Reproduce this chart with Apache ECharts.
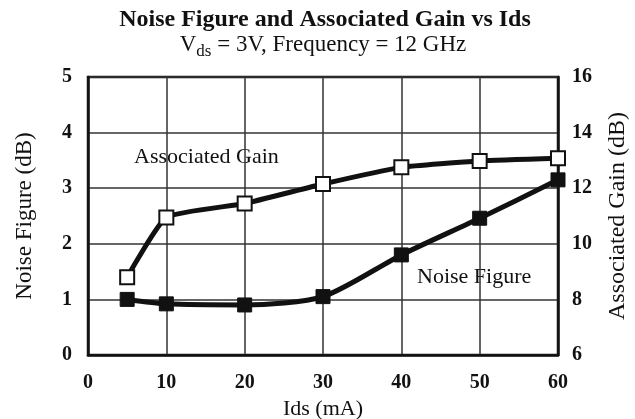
<!DOCTYPE html>
<html><head><meta charset="utf-8">
<script src="https://cdn.jsdelivr.net/npm/echarts@6/dist/echarts.min.js"></script>
<style>html,body{margin:0;padding:0;background:#fff}#c{width:635px;height:419px}</style>
</head><body><div id="c"></div>
<script>
var idsValues = [5, 10, 20, 30, 40, 50, 60];
var noiseFigure = [1.0, 0.92, 0.9, 1.05, 1.8, 2.46, 3.15];
var associatedGain = [8.8, 10.95, 11.45, 12.15, 12.75, 12.98, 13.08];
var FONT = '"Liberation Serif", "DejaVu Serif", serif';

var chart = echarts.init(document.getElementById('c'));
chart.setOption({
  backgroundColor: '#fff',
  animation: false,
  title: [{
    text: 'Noise Figure and Associated Gain vs Ids',
    left: 320, top: 3, textAlign: 'center',
    textStyle: {fontFamily: FONT, fontWeight: 'bold', fontSize: 24, color: '#111'}
  }, {
    text: '{n|V}{s|ds}{n| = 3V, Frequency = 12 GHz}',
    left: 318, top: 28, textAlign: 'center',
    textStyle: {fontWeight: 'normal', rich: {
      n: {fontFamily: FONT, fontWeight: 'normal', fontSize: 23, color: '#111', lineHeight: 26, verticalAlign: 'top'},
      s: {fontFamily: FONT, fontWeight: 'normal', fontSize: 17, color: '#111', lineHeight: 26, padding: [10, 0, 0, 0], verticalAlign: 'top'}
    }}
  }],
  grid: {left: 88, right: 77, top: 77, bottom: 64, outerBoundsMode: 'none', containLabel: false,
    show: true, borderColor: '#111', borderWidth: 2.5, backgroundColor: 'transparent'},
  xAxis: {
    type: 'value', min: 0, max: 60, interval: 10,
    name: 'Ids (mA)', nameLocation: 'middle', nameGap: 40,
    nameTextStyle: {fontFamily: FONT, fontSize: 22, color: '#111'},
    axisLine: {lineStyle: {color: '#111', width: 2.5}},
    axisTick: {show: false},
    axisLabel: {fontFamily: FONT, fontWeight: 'bold', fontSize: 20, color: '#111', margin: 18},
    splitLine: {show: true, lineStyle: {color: '#333', width: 1.5}}
  },
  yAxis: [{
    type: 'value', min: 0, max: 5, interval: 1,
    name: 'Noise Figure (dB)', nameLocation: 'middle', nameGap: 52, nameRotate: 90,
    nameTextStyle: {fontFamily: FONT, fontSize: 23, color: '#111'},
    axisLine: {show: true, lineStyle: {color: '#111', width: 2.5}},
    axisTick: {show: false},
    axisLabel: {fontFamily: FONT, fontWeight: 'bold', fontSize: 20, color: '#111', margin: 16},
    splitLine: {show: true, lineStyle: {color: '#333', width: 1.5}}
  }, {
    type: 'value', min: 6, max: 16, interval: 2, position: 'right',
    name: 'Associated Gain (dB)', nameLocation: 'middle', nameGap: 48, nameRotate: 90,
    nameTextStyle: {fontFamily: FONT, fontSize: 24, color: '#111'},
    axisLine: {show: true, lineStyle: {color: '#111', width: 2.5}},
    axisTick: {show: false},
    axisLabel: {fontFamily: FONT, fontWeight: 'bold', fontSize: 20, color: '#111', margin: 14},
    splitLine: {show: false}
  }],
  series: [{
    name: 'Noise Figure', type: 'line', yAxisIndex: 0,
    data: idsValues.map(function (x, i) { return [x, noiseFigure[i]]; }),
    smooth: 0.25, symbol: 'rect', symbolSize: 14,
    lineStyle: {color: '#111', width: 5},
    itemStyle: {color: '#111', borderColor: '#111', borderWidth: 1}
  }, {
    name: 'Associated Gain', type: 'line', yAxisIndex: 1,
    data: idsValues.map(function (x, i) { return [x, associatedGain[i]]; }),
    smooth: 0.15, symbol: 'rect', symbolSize: 14,
    lineStyle: {color: '#111', width: 5},
    itemStyle: {color: '#fff', borderColor: '#111', borderWidth: 2}
  }],
  graphic: [{
    type: 'text', left: 134, top: 146,
    style: {text: 'Associated Gain', fontFamily: FONT, fontSize: 22, fill: '#111'}
  }, {
    type: 'text', left: 417, top: 266,
    style: {text: 'Noise Figure', fontFamily: FONT, fontSize: 22, fill: '#111'}
  }]
});
</script></body></html>
